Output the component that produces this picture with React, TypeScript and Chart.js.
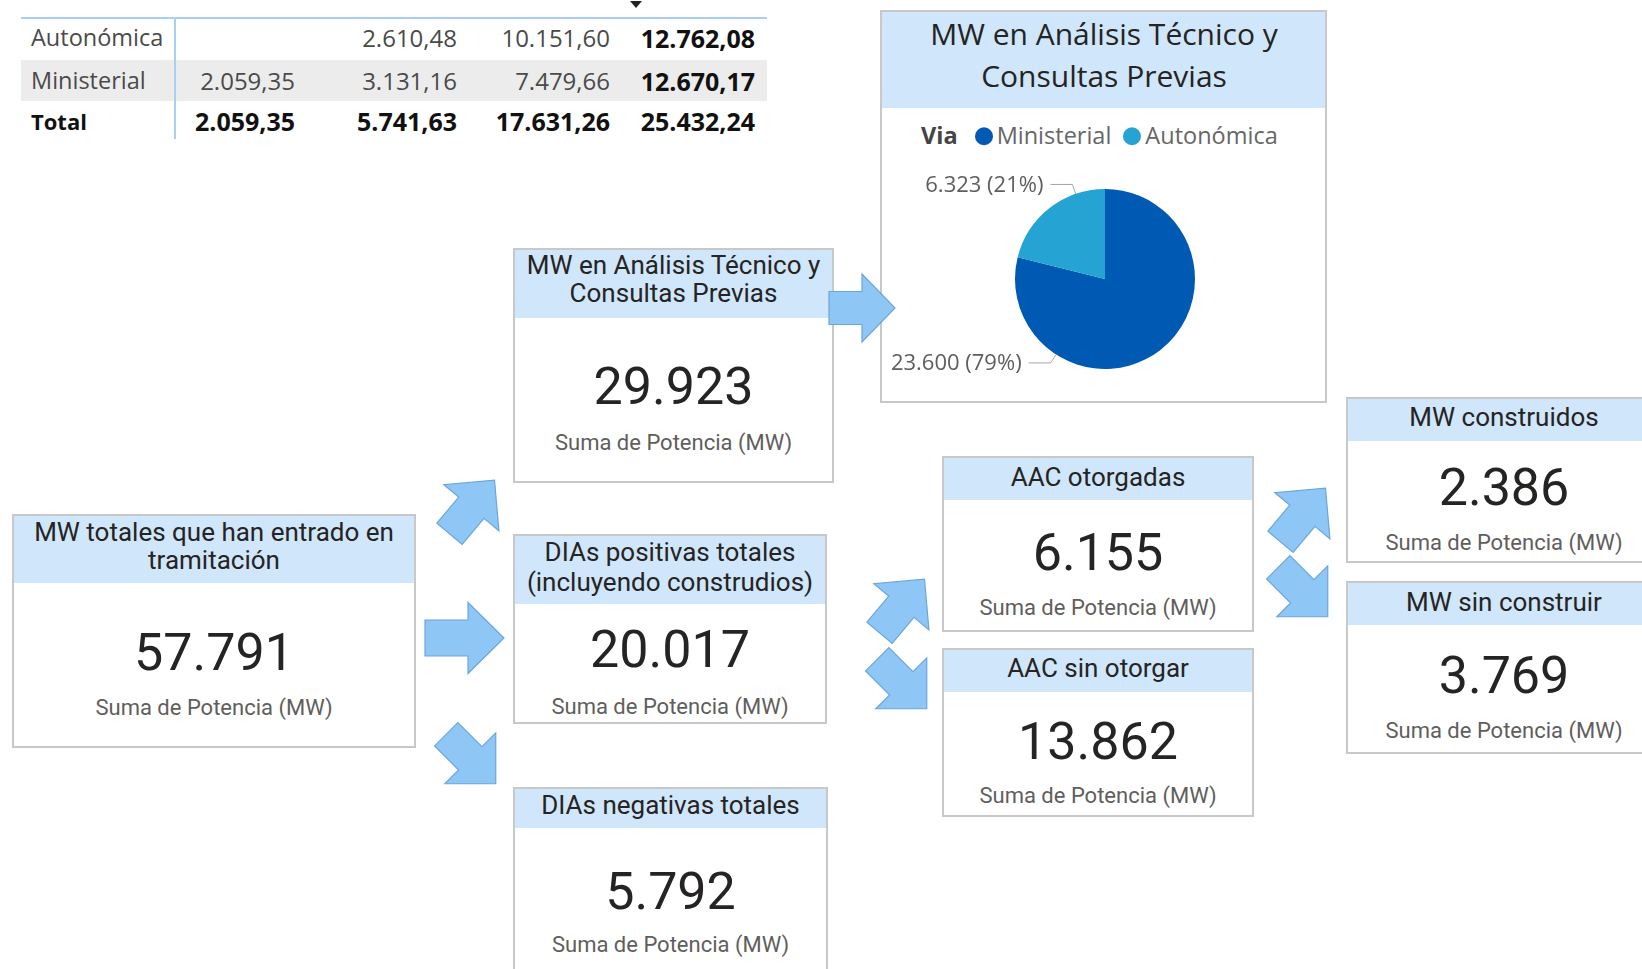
import React, { useEffect, useRef } from 'react';
import { Chart, registerables } from 'chart.js';
Chart.register(...registerables);

// ---------- data ----------
const tableRowLabels = ['Autonómica', 'Ministerial', 'Total'];
const tableCol1: (number | null)[] = [null, 2059.35, 2059.35];
const tableCol2 = [2610.48, 3131.16, 5741.63];
const tableCol3 = [10151.6, 7479.66, 17631.26];
const tableColTotal = [12762.08, 12670.17, 25432.24];

const pieTitle = ['MW en Análisis Técnico y', 'Consultas Previas'];
const pieLegendTitle = 'Via';
const pieLabels = ['Ministerial', 'Autonómica'];
const pieValues = [23600, 6323];
const pieColors = ['#0059b2', '#25a4d3'];

const cardTitles = [
  ['MW en Análisis Técnico y', 'Consultas Previas'],
  ['MW totales que han entrado en', 'tramitación'],
  ['DIAs positivas totales', '(incluyendo construdios)'],
  ['DIAs negativas totales'],
  ['AAC otorgadas'],
  ['AAC sin otorgar'],
  ['MW construidos'],
  ['MW sin construir'],
];
const cardValues = [29923, 57791, 20017, 5792, 6155, 13862, 2386, 3769];
const cardSubtitle = 'Suma de Potencia (MW)';

// ---------- layout ----------
const cardLayout = [
  { left: 513, top: 248, w: 321, h: 235, hh: 70, ty: [17, 45], vy: 139, sy: 195 },
  { left: 12, top: 514, w: 404, h: 234, hh: 69, ty: [18, 46], vy: 139, sy: 194 },
  { left: 513, top: 534, w: 314, h: 190, hh: 70, ty: [18, 48], vy: 116, sy: 173 },
  { left: 513, top: 787, w: 315, h: 220, hh: 41, ty: [18], vy: 105, sy: 158 },
  { left: 942, top: 456, w: 312, h: 176, hh: 44, ty: [21], vy: 97, sy: 152 },
  { left: 942, top: 648, w: 312, h: 169, hh: 44, ty: [20], vy: 94, sy: 148 },
  { left: 1346, top: 397, w: 316, h: 166, hh: 44, ty: [20], vy: 91, sy: 146 },
  { left: 1346, top: 581, w: 316, h: 173, hh: 44, ty: [21], vy: 95, sy: 150 },
];

const arrows = [
  { cx: 472, cy: 507, L: 70, H: 72, S: 33, Lh: 36, rot: -50 },
  { cx: 464.5, cy: 638, L: 79, H: 71, S: 36, Lh: 36, rot: 0 },
  { cx: 471, cy: 759, L: 70, H: 72, S: 33, Lh: 36, rot: 45 },
  { cx: 862, cy: 308, L: 66, H: 68, S: 33, Lh: 33, rot: 0 },
  { cx: 902, cy: 606, L: 70, H: 72, S: 33, Lh: 36, rot: -50 },
  { cx: 902, cy: 684, L: 70, H: 72, S: 33, Lh: 36, rot: 45 },
  { cx: 1303, cy: 515, L: 70, H: 72, S: 33, Lh: 36, rot: -50 },
  { cx: 1303, cy: 592, L: 70, H: 72, S: 33, Lh: 36, rot: 45 },
];

const HEADER_BG = '#d0e6fa';
const CARD_BORDER = '#c8c8c8';
const ARROW_FILL = '#8ec6f5';
const ARROW_STROKE = '#6aa6dc';
const UI_FONT = '"Open Sans", "Noto Sans", sans-serif';
const DIN_FONT = 'Roboto, "Noto Sans", sans-serif';

function fmtEs(n: number, dec: number): string {
  const s = n.toFixed(dec);
  const [ip, dp] = s.split('.');
  const g = ip.replace(/\B(?=(\d{3})+(?!\d))/g, '.');
  return dp ? g + ',' + dp : g;
}

type TxtProps = {
  x: number; y: number; text: string; size: number; align?: 'left' | 'center' | 'right';
  weight?: number | string; color?: string; font?: string;
};
function Txt({ x, y, text, size, align = 'left', weight = 400, color = '#333', font = UI_FONT }: TxtProps) {
  const tx = align === 'left' ? '0' : align === 'center' ? '-50%' : '-100%';
  return (
    <div
      style={{
        position: 'absolute', left: x, top: y, transform: `translate(${tx}, -50%)`,
        fontFamily: font, fontSize: size, fontWeight: weight as any, color, lineHeight: 1,
        whiteSpace: 'nowrap',
      }}
    >
      {text}
    </div>
  );
}

function Table() {
  const rowsY = [38, 81, 121];
  const colRight = [295, 457, 610, 755];
  const cols = [tableCol1, tableCol2, tableCol3, tableColTotal];
  return (
    <>
      <div style={{ position: 'absolute', left: 630, top: 1, width: 0, height: 0, borderLeft: '6px solid transparent', borderRight: '6px solid transparent', borderTop: '7px solid #222' }} />
      <div style={{ position: 'absolute', left: 21, top: 59.5, width: 746, height: 41, background: '#ececec' }} />
      <div style={{ position: 'absolute', left: 21, top: 16.5, width: 746, height: 2, background: '#a9d0f2' }} />
      <div style={{ position: 'absolute', left: 173.5, top: 17, width: 2, height: 122, background: '#a9d0f2' }} />
      {tableRowLabels.map((lab, r) => (
        <React.Fragment key={lab}>
          <Txt x={31} y={rowsY[r]} text={lab} size={r === 2 ? 22 : 23.5} weight={r === 2 ? 700 : 400} color={r === 2 ? '#111' : '#4a4a4a'} />
          {cols.map((c, ci) => {
            const v = c[r];
            if (v === null || v === undefined) return null;
            const bold = r === 2 || ci === 3;
            return (
              <Txt key={ci} x={colRight[ci]} y={rowsY[r]} text={fmtEs(v as number, 2)} size={bold ? 25 : 24}
                align="right" weight={bold ? 700 : 400} color={bold ? '#111' : '#4a4a4a'} />
            );
          })}
        </React.Fragment>
      ))}
    </>
  );
}

function Card({ i }: { i: number }) {
  const l = cardLayout[i];
  return (
    <div style={{
      position: 'absolute', left: l.left, top: l.top, width: l.w, height: l.h,
      background: '#fff', border: `2px solid ${CARD_BORDER}`, boxSizing: 'border-box',
    }}>
      <div style={{ position: 'absolute', left: 0, top: 0, right: 0, height: l.hh - 2, background: HEADER_BG }} />
      {cardTitles[i].map((t, k) => (
        <Txt key={k} x={l.w / 2 - 2} y={l.ty[k] - 2} text={t} size={26} align="center" color="#252423" font={DIN_FONT} />
      ))}
      <Txt x={l.w / 2 - 2} y={l.vy - 2} text={fmtEs(cardValues[i], 0)} size={52} align="center" color="#252423" font={DIN_FONT} />
      <Txt x={l.w / 2 - 2} y={l.sy - 2} text={cardSubtitle} size={22} align="center" color="#605e5c" font={DIN_FONT} />
    </div>
  );
}

function Arrows() {
  return (
    <svg width={1642} height={969} style={{ position: 'absolute', left: 0, top: 0, pointerEvents: 'none' }}>
      {arrows.map((a, i) => {
        const hl = a.L / 2, hb = a.L / 2 - a.Lh;
        const pts = [
          [-hl, -a.S / 2], [hb, -a.S / 2], [hb, -a.H / 2], [hl, 0], [hb, a.H / 2], [hb, a.S / 2], [-hl, a.S / 2],
        ].map(p => p.join(',')).join(' ');
        return (
          <polygon key={i} points={pts} transform={`translate(${a.cx},${a.cy}) rotate(${a.rot})`}
            fill={ARROW_FILL} stroke={ARROW_STROKE} strokeWidth={1.2} strokeLinejoin="miter" />
        );
      })}
    </svg>
  );
}

function PieChart() {
  const ref = useRef<HTMLCanvasElement>(null);
  useEffect(() => {
    if (!ref.current) return;
    const labelPlugin = {
      id: 'pieOutLabels',
      afterDatasetsDraw(chart: any) {
        const ctx = chart.ctx as CanvasRenderingContext2D;
        const meta = chart.getDatasetMeta(0);
        const data = chart.data.datasets[0].data as number[];
        const total = data.reduce((s, v) => s + v, 0);
        meta.data.forEach((arc: any, i: number) => {
          const p = arc.getProps(['x', 'y', 'startAngle', 'endAngle', 'outerRadius'], true);
          const a = p.startAngle + 0.75 * (p.endAngle - p.startAngle);
          const px = p.x + Math.cos(a) * p.outerRadius;
          const py = p.y + Math.sin(a) * p.outerRadius;
          const ex = px + Math.cos(a) * 10;
          const ey = py + Math.sin(a) * 10;
          const dir = Math.cos(a) < 0 ? -1 : 1;
          const hx = ex + dir * 22;
          ctx.save();
          ctx.strokeStyle = '#a6a6a6';
          ctx.lineWidth = 1;
          ctx.beginPath();
          ctx.moveTo(px, py);
          ctx.lineTo(ex, ey);
          ctx.lineTo(hx, ey);
          ctx.stroke();
          ctx.fillStyle = '#605e5c';
          ctx.font = '22px "Open Sans", "Noto Sans", sans-serif';
          ctx.textAlign = dir < 0 ? 'right' : 'left';
          ctx.textBaseline = 'middle';
          const pct = Math.round((data[i] / total) * 100);
          ctx.fillText(`${fmtEs(data[i], 0)} (${pct}%)`, hx + dir * 7, ey + 1);
          ctx.restore();
        });
      },
    };
    const chart = new Chart(ref.current, {
      type: 'pie',
      data: {
        labels: pieLabels,
        datasets: [{ data: pieValues, backgroundColor: pieColors, borderWidth: 0, hoverOffset: 0 }],
      },
      options: {
        animation: false,
        responsive: false,
        radius: 90,
        layout: { padding: 0 },
        plugins: { legend: { display: false }, tooltip: { enabled: false } },
      } as any,
      plugins: [labelPlugin],
    });
    return () => chart.destroy();
  }, []);
  return (
    <canvas ref={ref} width={440} height={238}
      style={{ position: 'absolute', left: 885, top: 160, width: 440, height: 238 }} />
  );
}

function PiePanel() {
  return (
    <>
      <div style={{
        position: 'absolute', left: 880, top: 10, width: 447, height: 393,
        background: '#fff', border: `2px solid ${CARD_BORDER}`, boxSizing: 'border-box',
      }}>
        <div style={{ position: 'absolute', left: 0, top: 0, right: 0, height: 96, background: HEADER_BG }} />
      </div>
      <Txt x={1104} y={34} text={pieTitle[0]} size={30} align="center" color="#252423" />
      <Txt x={1104} y={76} text={pieTitle[1]} size={30} align="center" color="#252423" />
      <div style={{
        position: 'absolute', left: 921, top: 136, transform: 'translateY(-50%)', display: 'flex',
        alignItems: 'center', fontFamily: UI_FONT, fontSize: 23.5, lineHeight: 1, whiteSpace: 'nowrap',
      }}>
        <span style={{ fontWeight: 700, color: '#444', marginRight: 17 }}>{pieLegendTitle}</span>
        {pieLabels.map((l, i) => (
          <React.Fragment key={l}>
            <span style={{ display: 'inline-block', width: 18, height: 18, borderRadius: 9, background: pieColors[i], marginRight: 4 }} />
            <span style={{ color: '#666', marginRight: i === 0 ? 12 : 0 }}>{l}</span>
          </React.Fragment>
        ))}
      </div>
      <PieChart />
    </>
  );
}

export default function App() {
  return (
    <div style={{ position: 'absolute', left: 0, top: 0, width: 1642, height: 969, overflow: 'hidden', background: '#fff' }}>
      <Table />
      <PiePanel />
      {cardLayout.map((_, i) => <Card key={i} i={i} />)}
      <Arrows />
    </div>
  );
}
